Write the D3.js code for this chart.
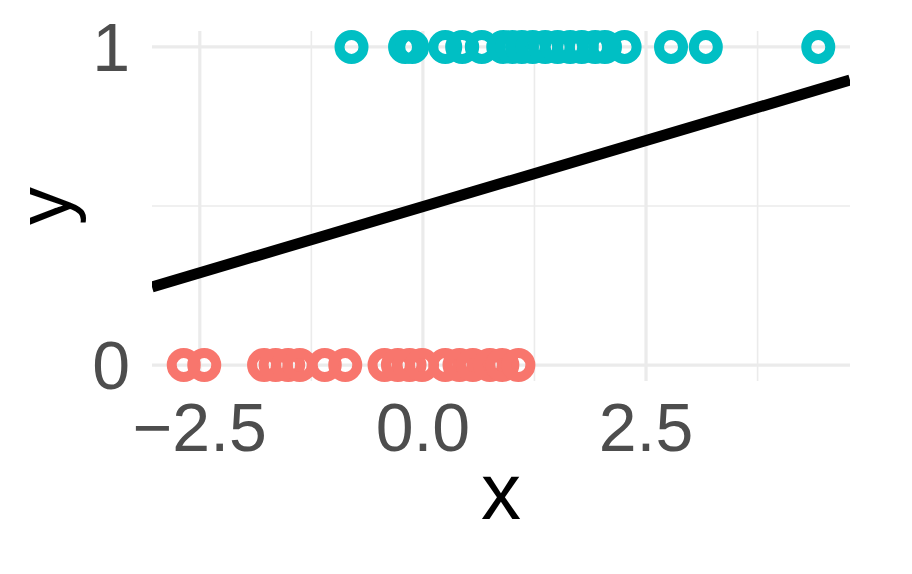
<!DOCTYPE html>
<html><head><meta charset="utf-8">
<script src="https://cdn.jsdelivr.net/npm/d3@7"></script>
<style>body{margin:0;background:#fff}</style>
</head><body>
<svg id="c" width="912" height="574"></svg>
<script>
const x0 = [-2.68,-2.45,-1.78,-1.65,-1.51,-1.38,-1.10,-0.87,-0.43,-0.28,-0.15,-0.01,0.25,0.41,0.56,0.75,0.89,1.07];
const x1 = [-0.80,-0.20,-0.12,0.25,0.44,0.66,0.90,1.00,1.11,1.23,1.37,1.51,1.65,1.78,1.93,2.04,2.26,2.78,3.17,4.43];
const lineIntercept = 0.498;
const lineSlope = 0.0831;
const xTicks = [-2.5, 0, 2.5];
const xMinor = [-1.25, 1.25, 3.75];
const yTicks = [0, 1];
const yMinor = [0.5];

const svg = d3.select("#c");
const L = 152, R = 850, T = 31, B = 381;
const allX = x0.concat(x1);
const ext = d3.extent(allX), span = ext[1]-ext[0];
const x = d3.scaleLinear().domain([ext[0]-0.05*span, ext[1]+0.05*span]).range([L, R]);
const y = d3.scaleLinear().domain([-0.05, 1.05]).range([B, T]);

const g = svg.append("g");
g.selectAll(".vmin").data(xMinor).join("line").attr("x1",d=>x(d)).attr("x2",d=>x(d)).attr("y1",T).attr("y2",B).attr("stroke","#ebebeb").attr("stroke-width",1.6);
g.selectAll(".hmin").data(yMinor).join("line").attr("y1",d=>y(d)).attr("y2",d=>y(d)).attr("x1",L).attr("x2",R).attr("stroke","#ebebeb").attr("stroke-width",1.6);
g.selectAll(".vmaj").data(xTicks).join("line").attr("x1",d=>x(d)).attr("x2",d=>x(d)).attr("y1",T).attr("y2",B).attr("stroke","#ebebeb").attr("stroke-width",3.2);
g.selectAll(".hmaj").data(yTicks).join("line").attr("y1",d=>y(d)).attr("y2",d=>y(d)).attr("x1",L).attr("x2",R).attr("stroke","#ebebeb").attr("stroke-width",3.2);

svg.append("defs").append("clipPath").attr("id","clip").append("rect").attr("x",L).attr("y",T).attr("width",R-L).attr("height",B-T);

const pts = x0.map(v=>({x:v,y:0})).concat(x1.map(v=>({x:v,y:1})));
svg.append("g").selectAll("circle").data(pts).join("circle")
  .attr("cx",d=>x(d.x)).attr("cy",d=>y(d.y)).attr("r",12)
  .attr("fill","none").attr("stroke",d=>d.y===1?"#00BFC4":"#F8766D").attr("stroke-width",10);

const dom = x.domain();
svg.append("line").attr("clip-path","url(#clip)")
  .attr("x1",x(dom[0])).attr("x2",x(dom[1]))
  .attr("y1",y(lineIntercept+lineSlope*dom[0])).attr("y2",y(lineIntercept+lineSlope*dom[1]))
  .attr("stroke","#000").attr("stroke-width",11);

const fmt = d => d===0 ? "0.0" : (d<0 ? "\u2212"+Math.abs(d).toFixed(1) : d.toFixed(1));
svg.append("g").selectAll("text").data(xTicks).join("text")
  .attr("x",d=>x(d)).attr("y",451).attr("text-anchor","middle")
  .attr("font-family","Liberation Sans, Arial, sans-serif").attr("font-size",68).attr("fill","#4d4d4d").text(fmt);
svg.append("g").selectAll("text").data(yTicks).join("text")
  .attr("x",130).attr("y",d=>y(d)+24).attr("text-anchor","end")
  .attr("font-family","Liberation Sans, Arial, sans-serif").attr("font-size",68).attr("fill","#4d4d4d").text(d=>d);

svg.append("text").attr("x",501).attr("y",519).attr("text-anchor","middle")
  .attr("font-family","Liberation Sans, Arial, sans-serif").attr("font-size",80).attr("fill","#000").text("x");
svg.append("text").attr("transform","translate(70,206) rotate(-90)").attr("text-anchor","middle")
  .attr("font-family","Liberation Sans, Arial, sans-serif").attr("font-size",76).attr("fill","#000").text("y");
</script>
</body></html>
